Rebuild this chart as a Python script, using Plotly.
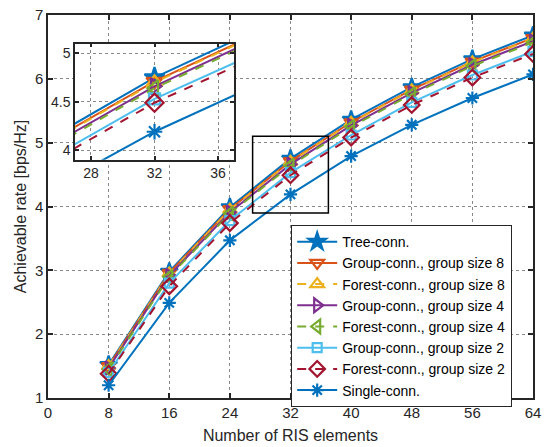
import plotly.graph_objects as go

ris_elements = [8, 16, 24, 32, 40, 48, 56, 64]

series_names = [
    "Tree-conn.",
    "Group-conn., group size 8",
    "Forest-conn., group size 8",
    "Group-conn., group size 4",
    "Forest-conn., group size 4",
    "Group-conn., group size 2",
    "Forest-conn., group size 2",
    "Single-conn.",
]

tree_conn = [1.52, 2.98, 3.99, 4.75, 5.36, 5.87, 6.31, 6.68]
group8 = [1.50, 2.96, 3.96, 4.71, 5.32, 5.83, 6.27, 6.64]
forest8 = [1.50, 2.95, 3.95, 4.70, 5.31, 5.82, 6.26, 6.63]
group4 = [1.47, 2.92, 3.91, 4.66, 5.27, 5.78, 6.22, 6.59]
forest4 = [1.45, 2.90, 3.89, 4.64, 5.25, 5.76, 6.20, 6.57]
group2 = [1.40, 2.80, 3.78, 4.53, 5.12, 5.63, 6.06, 6.43]
forest2 = [1.38, 2.75, 3.74, 4.49, 5.08, 5.59, 6.02, 6.39]
single_conn = [1.20, 2.49, 3.47, 4.19, 4.79, 5.28, 5.70, 6.07]

all_values = [tree_conn, group8, forest8, group4, forest4, group2, forest2, single_conn]

colors = ["#0072BD", "#D95319", "#EDB120", "#7E2F8E", "#77AC30", "#4DBEEE", "#A2142F", "#0072BD"]
symbols = ["star", "triangle-down-open", "triangle-up-open", "triangle-right-open",
           "triangle-left-open", "square-open", "diamond-open", "asterisk-open"]
dashes = ["solid", "solid", "dash", "solid", "dash", "solid", "dash", "solid"]
msizes = [13, 12, 12, 12, 12, 9, 12, 11]

x_ticks = [0, 8, 16, 24, 32, 40, 48, 56, 64]
y_ticks = [1, 2, 3, 4, 5, 6, 7]
inset_x_ticks = [28, 32, 36]
inset_y_ticks = [4, 4.5, 5]
inset_x_range = [27, 37]
inset_y_range = [3.9, 5.1]

fig = go.Figure()

for name, vals, c, s, d, ms in zip(series_names, all_values, colors, symbols, dashes, msizes):
    fig.add_trace(go.Scatter(
        x=ris_elements, y=vals, name=name, mode="lines+markers",
        line=dict(color=c, width=2, dash=d),
        marker=dict(symbol=s, size=ms, color=c, line=dict(color=c, width=2.2)),
        xaxis="x", yaxis="y",
    ))

for name, vals, c, s, d, ms in zip(series_names, all_values, colors, symbols, dashes, msizes):
    fig.add_trace(go.Scatter(
        x=ris_elements, y=vals, name=name, mode="lines+markers", showlegend=False,
        line=dict(color=c, width=2, dash=d),
        marker=dict(symbol=s, size=ms + 2, color=c, line=dict(color=c, width=2.2)),
        xaxis="x2", yaxis="y2",
    ))

grid_col = "rgba(40,40,40,0.55)"
font_family = "Liberation Sans, Arial, sans-serif"

fig.update_layout(
    width=545, height=447,
    margin=dict(l=48, r=12, t=15, b=49),
    paper_bgcolor="white", plot_bgcolor="white",
    font=dict(family=font_family, size=15, color="#262626"),
    xaxis=dict(
        domain=[0, 1], range=[0, 64], tickvals=x_ticks, ticks="inside", ticklen=5,
        tickwidth=1.5, tickcolor="#262626", tickfont=dict(size=15),
        showline=True, linecolor="#262626", linewidth=1.5, mirror="ticks",
        showgrid=True, gridcolor=grid_col, griddash="dot", gridwidth=1,
        zeroline=False, automargin=False,
        title=dict(text="Number of RIS elements", font=dict(size=16), standoff=10),
    ),
    yaxis=dict(
        domain=[0, 1], range=[1, 7], tickvals=y_ticks, ticks="inside", ticklen=5,
        tickwidth=1.5, tickcolor="#262626", tickfont=dict(size=15),
        showline=True, linecolor="#262626", linewidth=1.5, mirror="ticks",
        showgrid=True, gridcolor=grid_col, griddash="dot", gridwidth=1,
        zeroline=False, automargin=False,
        title=dict(text="Achievable rate [bps/Hz]", font=dict(size=16), standoff=4),
    ),
    xaxis2=dict(
        domain=[0.0557, 0.3835], range=inset_x_range, tickvals=inset_x_ticks, anchor="y2",
        ticks="inside", ticklen=4, tickwidth=1.5, tickcolor="#262626",
        showline=True, linecolor="#262626", linewidth=1.5, mirror="ticks",
        showgrid=True, gridcolor=grid_col, griddash="dot", gridwidth=1,
        zeroline=False, tickfont=dict(size=14),
    ),
    yaxis2=dict(
        domain=[0.622, 0.925], range=inset_y_range, tickvals=inset_y_ticks, anchor="x2",
        ticks="inside", ticklen=4, tickwidth=1.5, tickcolor="#262626",
        showline=True, linecolor="#262626", linewidth=1.5, mirror="ticks",
        showgrid=True, gridcolor=grid_col, griddash="dot", gridwidth=1,
        zeroline=False, tickfont=dict(size=14),
    ),
    legend=dict(
        x=0.501, y=0.452, xanchor="left", yanchor="top",
        bgcolor="white", bordercolor="#262626", borderwidth=1.2,
        font=dict(size=14, color="black"), tracegroupgap=0,
        itemwidth=40,
    ),
    showlegend=True,
)

fig.add_shape(type="rect", xref="x2 domain", yref="y2 domain", x0=0, x1=1, y0=0, y1=1,
              fillcolor="white", line=dict(width=0), layer="below")
fig.add_shape(type="rect", xref="x", yref="y", x0=inset_x_range[0], x1=inset_x_range[1],
              y0=inset_y_range[0], y1=inset_y_range[1],
              line=dict(color="black", width=1.5), layer="above")

fig.write_html("out.html")
